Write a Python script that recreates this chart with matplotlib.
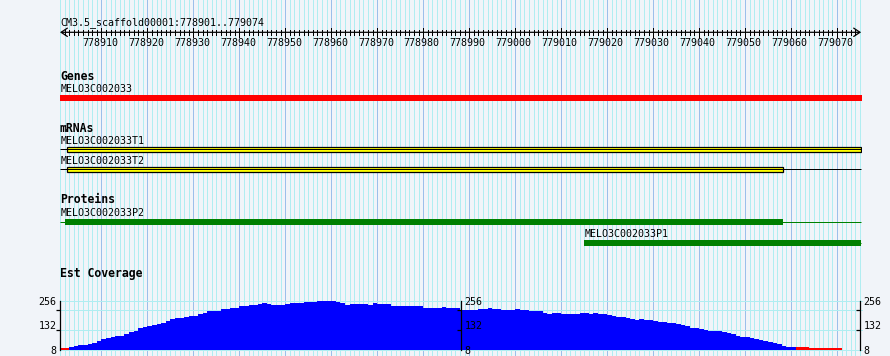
import numpy as np
import matplotlib.pyplot as plt

plt.rcParams['font.family'] = ['DejaVu Sans Mono']

# region shown
ref_name = 'CM3.5_scaffold00001'
view_start = 778901
view_end = 779074

# Genes track
gene_names = ['MELO3C002033']
gene_starts = [778900.8]
gene_ends = [779075.4]

# mRNAs track: full extent (thin line) and box part
mrna_names = ['MELO3C002033T1', 'MELO3C002033T2']
mrna_starts = [778900.9, 778900.9]
mrna_ends = [779075.3, 779075.3]
mrna_box_starts = [778902.5, 778902.5]
mrna_box_ends = [779075.2, 779058.2]

# Proteins track
protein_names = ['MELO3C002033P2', 'MELO3C002033P1']
protein_starts = [778900.9, 779015.0]
protein_ends = [779075.3, 779075.2]
protein_box_starts = [778902.1, 779015.0]
protein_box_ends = [779058.2, 779075.2]

# Est coverage, one value per base from view_start (values under 8 are drawn red)
coverage = [4, 4,
            21, 26, 31, 31, 36, 43, 53, 63, 69, 74,
            79, 79, 89, 98, 104, 118, 123, 129, 134, 139,
            144, 153, 163, 168, 168, 175, 178, 181, 189, 194,
            204, 204, 207, 216, 216, 221, 221, 231, 231, 236,
            236, 241, 247, 241, 236, 236, 236, 241, 248, 248,
            248, 252, 252, 254, 256, 256, 256, 256, 254, 247,
            238, 243, 243, 243, 243, 238, 248, 241, 241, 241,
            233, 233, 233, 230, 230, 230, 230, 222, 222, 222,
            222, 224, 219, 219, 219, 212, 212, 212, 212, 216,
            216, 222, 217, 217, 211, 211, 211, 216, 211, 211,
            206, 206, 206, 195, 192, 197, 197, 192, 192, 192,
            192, 197, 197, 192, 197, 190, 190, 187, 181, 176,
            176, 171, 166, 161, 166, 161, 161, 156, 151, 151,
            145, 145, 140, 135, 129, 120, 120, 113, 110, 104,
            104, 104, 99, 94, 88, 79, 74, 74, 67, 62,
            57, 52, 46, 41, 36, 27, 21, 21,
            6, 6, 6, 3, 3, 3, 3, 3, 3, 3,
            0, 0, 0, 0]
cov_min, cov_max = 8, 256
cov_label_vals = [8, 132, 256]
cov_tick_vals = [8, 107, 209, 256]

BG = '#f1f4f9'
CYAN = '#b0edf1'
BLUE_LINE = '#9cbfea'
LW = 0.72

W, H = 890, 356
fig = plt.figure(figsize=(W / 100, H / 100), dpi=100)
fig.patch.set_facecolor(BG)

px_per_base = 800 / (view_end - view_start + 1)
x_right = view_start + 802 / px_per_base

ax = fig.add_axes([60 / W, 0, 802 / W, 1])
ax.set_xlim(view_start, x_right)
ax.set_ylim(H, 0)
ax.axis('off')

# base grid
bases = np.arange(view_start, int(x_right) + 1)
ax.vlines(bases[bases % 10 != 0], 0, H, color=CYAN, lw=LW, zorder=0, antialiased=False)
ax.vlines(bases[bases % 10 == 0], 0, H, color=BLUE_LINE, lw=LW, zorder=0, antialiased=False)

small = dict(fontsize=7.2, va='baseline')
bold = dict(fontsize=8.3, va='baseline', weight='bold')

# ruler
ax.text(view_start, 25, f'{ref_name}:{view_start}..{view_end}', **small)
ax.annotate('', xy=(x_right - 0.2, 32.3), xytext=(view_start, 32.3),
            arrowprops=dict(arrowstyle='<->,head_length=0.45,head_width=0.3',
                            lw=0.9, color='black', shrinkA=0, shrinkB=0))
rticks = np.arange(view_start + 1, view_end + 1)
ax.vlines(rticks[rticks % 10 != 0], 29.5, 35.3, color='black', lw=LW, antialiased=False)
ax.vlines(rticks[rticks % 10 == 0], 28.0, 36.7, color='black', lw=LW, antialiased=False)
for b in rticks[rticks % 10 == 0]:
    ax.text(b - 0.3, 46, str(b), ha='center', **small)

# Genes
ax.text(view_start, 80, 'Genes', **bold)
for name, s, e in zip(gene_names, gene_starts, gene_ends):
    ax.text(view_start + 0.15, 92, name, **small)
    ax.barh(97.85, e - s, left=s, height=5.7, color='#ff0000', lw=0)

# mRNAs
ax.text(view_start, 131.7, 'mRNAs', **bold)
for i, name in enumerate(mrna_names):
    yc = 149.3 + 20 * i
    ax.text(view_start + 0.15, yc - 5.3, name, **small)
    ax.hlines(yc, mrna_starts[i], mrna_ends[i], color='black', lw=LW)
    ax.barh(yc, mrna_box_ends[i] - mrna_box_starts[i], left=mrna_box_starts[i],
            height=4.6, color='#ffff00', edgecolor='black', lw=0.9)

# Proteins
ax.text(view_start, 203.3, 'Proteins', **bold)
for i, name in enumerate(protein_names):
    yc = 221.9 + 21 * i
    ax.text(protein_starts[i] + 0.15, yc - 6.2, name, **small)
    ax.hlines(yc, protein_starts[i], protein_ends[i], color='#008000', lw=LW)
    ax.barh(yc, protein_box_ends[i] - protein_box_starts[i], left=protein_box_starts[i],
            height=5.7, color='#008000', lw=0)

# Est Coverage
ax.text(view_start, 277.3, 'Est Coverage', **bold)

cax = fig.add_axes([60 / W, (H - 349.5) / H, 802 / W, 48.3 / H])
cax.set_xlim(view_start, x_right)
cax.set_ylim(cov_min, cov_max)
cax.patch.set_alpha(0)
cov = np.array(coverage, dtype=float)
pos = view_start + np.arange(len(cov))
hi = cov >= cov_min
cax.bar(pos[hi], np.minimum(cov[hi], cov_max) - cov_min, bottom=cov_min, width=1,
        align='edge', color='#0000ff', lw=0, zorder=2)
lo = (cov < cov_min) & (cov > 0)
cax.bar(pos[lo], 2 * cov[lo], bottom=cov_min, width=1, align='edge',
        color='#ff0000', lw=0, zorder=2)
for v in cov_tick_vals:
    cax.axhline(v, color=CYAN, lw=LW, zorder=0, clip_on=False)

for side in ['top', 'right', 'bottom']:
    cax.spines[side].set_visible(False)
cax.spines['left'].set_linewidth(0.9)
cax.set_xticks([])
cax.set_yticks(cov_label_vals, labels=[str(v) for v in cov_label_vals])
cax.set_yticks(cov_tick_vals, minor=True)
cax.tick_params(axis='y', which='major', length=0, pad=2.5, labelsize=7.2)
cax.tick_params(axis='y', which='minor', length=3, width=0.9, direction='out')

for loc in (0.5, 0.9975):
    sec = cax.secondary_yaxis(loc)
    sec.set_zorder(5)
    sec.spines['right'].set_linewidth(0.9)
    sec.set_yticks(cov_label_vals, labels=[str(v) for v in cov_label_vals])
    sec.set_yticks(cov_tick_vals, minor=True)
    sec.tick_params(axis='y', which='major', length=0, pad=2.5, labelsize=7.2)
    sec.tick_params(axis='y', which='minor', length=3, width=0.9, direction='in')

fig.savefig('out.png', dpi=100, facecolor=BG)
